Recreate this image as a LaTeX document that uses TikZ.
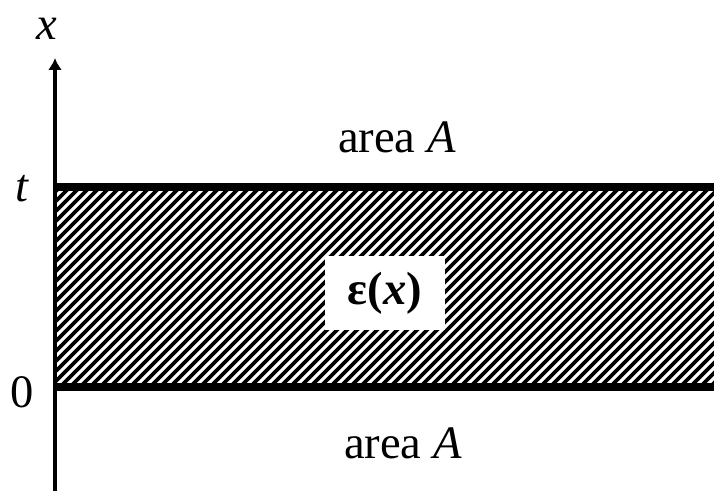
\documentclass[tikz,border=0pt]{standalone}
\usepackage{fontspec}
\setmainfont{Liberation Serif}
\usetikzlibrary{arrows.meta}

\begin{document}
\begin{tikzpicture}[
        x=0.02cm, y=0.02cm,
        font=\fontsize{26.5}{30}\selectfont,
        axis/.style  ={line width=2.2pt, -{Latex[length=0.24cm, width=0.28cm]}},
        wall/.style  ={line width=4.6pt},
        hatch/.style ={line width=2.1pt},
        lbl/.style   ={inner sep=0pt, anchor=base},
        epsbox/.style={fill=white, minimum width=2.4cm, minimum height=1.5cm, inner sep=0pt},
    ]
    \useasboundingbox (0,0) rectangle (714,491);

    %% Hatched layer between 0 and t
    \begin{scope}
        \clip (55,104) rectangle (714,304);
        \foreach \h in {-200,-190,...,714}
            \draw[hatch] (\h,104) -- ++(200,200);
    \end{scope}

    %% Boundaries of the layer
    \coordinate (topw) at (55,304);
    \coordinate (tope) at (714,304);
    \coordinate (botw) at (55,104);
    \coordinate (bote) at (714,104);
    \draw[wall] (topw) -- (tope);
    \draw[wall] (botw) -- (bote);

    %% Axis
    \coordinate (origin) at (55,0);
    \coordinate (xtip)   at (55,433);
    \draw[axis] (origin) -- (xtip);

    %% Labels
    \node[lbl] (xlabel) at (47,451) {\textit{x}};
    \node[lbl] (tlabel) at (22,289) {\textit{t}};
    \node[lbl] (zlabel) at (22,84)  {0};
    \node[lbl] (areatop) at (397,338) {area \textit{A}};
    \node[lbl] (areabot) at (403,33)  {area \textit{A}};

    %% Permittivity label
    \node[epsbox] (eps) at (385,198) {\textbf{ε(\textit{x})}};

\end{tikzpicture}
\end{document}
